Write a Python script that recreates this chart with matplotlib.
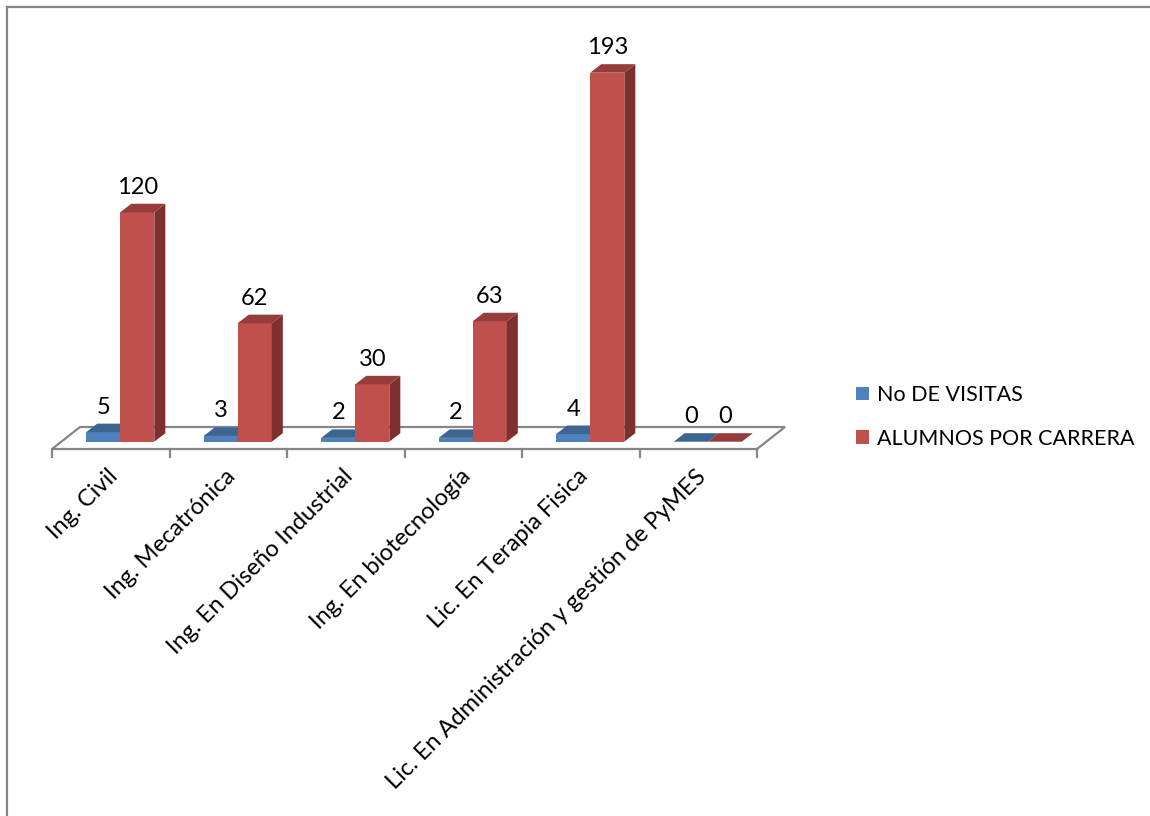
import matplotlib.pyplot as plt
import numpy as np
from matplotlib.patches import Polygon, Rectangle, Patch
from matplotlib.lines import Line2D

plt.rcParams['font.family'] = ['Lato', 'DejaVu Sans']

carreras = ['Ing. Civil', 'Ing. Mecatrónica', 'Ing. En Diseño Industrial',
            'Ing. En biotecnología', 'Lic. En Terapia Fisica',
            'Lic. En Administración y gestión de PyMES']
visitas = [5, 3, 2, 2, 4, 0]
alumnos = [120, 62, 30, 63, 193, 0]
series_names = ['No DE VISITAS', 'ALUMNOS POR CARRERA']

# front, top, side shades (Excel-like)
blue = ['#4F81BD', '#3D6592', '#385D8A']
red = ['#C0504D', '#963C3A', '#7D302E']

W, H = 1150, 816
fig = plt.figure(figsize=(W / 100, H / 100), dpi=100)
ax = fig.add_axes([61.5 / W, (H - 441.7) / H, 705 / W, 200 * 1.912 / H])
ax.set_xlim(-0.5, len(carreras) - 0.5)
ax.set_ylim(0, 200)
ax.axis('off')

sx = len(carreras) / 705.0   # data units per pixel (x)
sy = 200 / (200 * 1.912)     # data units per pixel (y)

# pseudo-3D offsets
bdx, bdy = 11 * sx, 8.5 * sy          # bar depth
fdx, fdy = -9.5 * sx, -7.3 * sy       # floor front edge
kdx, kdy = 18.5 * sx, 14.7 * sy       # floor back edge
bw = 0.29

n = len(carreras)
floor = Polygon([(-0.5 + fdx, fdy), (n - 0.5 + fdx, fdy),
                 (n - 0.5 + kdx, kdy), (-0.5 + kdx, kdy)],
                closed=True, facecolor='white', edgecolor='#868686',
                linewidth=1.6, clip_on=False, zorder=1)
ax.add_patch(floor)
for b in np.arange(-0.5, n, 1.0):
    ax.plot([b + fdx, b + fdx], [fdy, fdy - 8 * sy], color='#868686',
            lw=1.6, clip_on=False, zorder=1)


def bar3d(x0, v, cols):
    x1 = x0 + bw
    if v > 0:
        ax.add_patch(Rectangle((x0, 0), bw, v, facecolor=cols[0],
                               edgecolor='none', clip_on=False, zorder=3))
        ax.add_patch(Polygon([(x1, 0), (x1 + bdx, bdy), (x1 + bdx, v + bdy), (x1, v)],
                             closed=True, facecolor=cols[2], edgecolor='none',
                             clip_on=False, zorder=3))
    ax.add_patch(Polygon([(x0, v), (x1, v), (x1 + bdx, v + bdy), (x0 + bdx, v + bdy)],
                         closed=True, facecolor=cols[1], edgecolor='none',
                         clip_on=False, zorder=3))
    ax.annotate(str(v), (x0 + bw / 2, v + bdy), xytext=(0, 7.2),
                textcoords='offset points', ha='center', va='baseline',
                fontsize=17, color='black', annotation_clip=False)


for i in range(n):
    bar3d(i - bw, visitas[i], blue)
    bar3d(i, alumnos[i], red)
    ax.text(i + fdx + 4 * sx, fdy - 24 * sy, carreras[i], rotation=45,
            rotation_mode='anchor', ha='right', va='center', fontsize=17,
            color='black', clip_on=False)

handles = [Patch(facecolor=blue[0], edgecolor='none'),
           Patch(facecolor=red[0], edgecolor='none')]
fig.legend(handles, series_names, loc='center left',
           bbox_to_anchor=(845 / W, 1 - 417 / H), frameon=False,
           fontsize=15.5, handlelength=0.6, handleheight=0.6,
           handletextpad=0.4, labelspacing=1.1, borderpad=0)

# chart border (left and top visible)
fig.add_artist(Line2D([7 / W, 7 / W], [0, 1 - 7 / H], color='#868686', lw=1.6))
fig.add_artist(Line2D([7 / W, 1], [1 - 7 / H, 1 - 7 / H], color='#868686', lw=1.6))

fig.savefig('out.png', dpi=100)
